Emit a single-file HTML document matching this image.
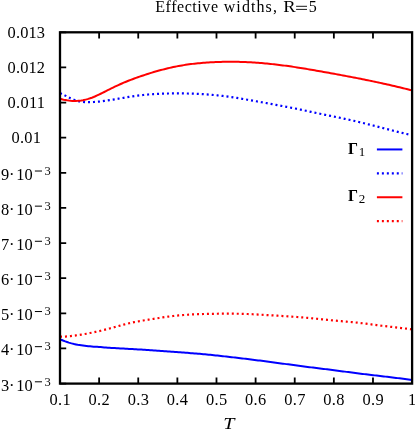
<!DOCTYPE html>
<html><head><meta charset="utf-8"><title>Effective widths, R=5</title>
<style>html,body{margin:0;padding:0;background:#fff;overflow:hidden}svg{display:block;will-change:transform}text{font-family:"Liberation Serif",serif;fill:#000}</style></head><body>
<svg width="415" height="431" viewBox="0 0 415 431">
<rect width="415" height="431" fill="#fff"/>
<text y="11.7" font-size="16"><tspan x="155.2" textLength="62.8">Effective</tspan><tspan x="223.7" textLength="53.2">widths,</tspan><tspan x="308.7">5</tspan></text>
<text transform="translate(283.2,11.7) scale(1.16,1)" font-size="16">R</text>
<path d="M296.1,6.3 H307 M296.1,9.4 H307" stroke="#000" stroke-width="0.9" fill="none"/>
<path d="M60.00,339.30 L61.77,340.04 L63.54,340.74 L65.31,341.41 L67.08,342.02 L68.84,342.60 L70.61,343.13 L72.38,343.61 L74.15,344.05 L75.92,344.44 L77.69,344.79 L79.46,345.09 L81.23,345.35 L82.99,345.59 L84.76,345.81 L86.53,346.01 L88.30,346.20 L90.07,346.36 L91.84,346.51 L93.61,346.63 L95.38,346.75 L97.15,346.87 L98.91,346.99 L100.68,347.12 L102.45,347.26 L104.22,347.40 L105.99,347.53 L107.76,347.65 L109.53,347.77 L111.30,347.88 L113.07,347.99 L114.83,348.09 L116.60,348.19 L118.37,348.29 L120.14,348.39 L121.91,348.50 L123.68,348.60 L125.45,348.70 L127.22,348.80 L128.98,348.90 L130.75,349.00 L132.52,349.10 L134.29,349.20 L136.06,349.30 L137.83,349.41 L139.60,349.51 L141.37,349.62 L143.14,349.73 L144.90,349.84 L146.67,349.95 L148.44,350.06 L150.21,350.18 L151.98,350.30 L153.75,350.42 L155.52,350.54 L157.29,350.67 L159.06,350.80 L160.82,350.93 L162.59,351.06 L164.36,351.19 L166.13,351.32 L167.90,351.45 L169.67,351.58 L171.44,351.71 L173.21,351.84 L174.97,351.97 L176.74,352.10 L178.51,352.22 L180.28,352.35 L182.05,352.48 L183.82,352.60 L185.59,352.73 L187.36,352.86 L189.13,352.99 L190.89,353.13 L192.66,353.26 L194.43,353.40 L196.20,353.55 L197.97,353.70 L199.74,353.85 L201.51,354.01 L203.28,354.17 L205.05,354.34 L206.81,354.51 L208.58,354.68 L210.35,354.86 L212.12,355.04 L213.89,355.23 L215.66,355.41 L217.43,355.60 L219.20,355.79 L220.96,355.99 L222.73,356.18 L224.50,356.38 L226.27,356.57 L228.04,356.77 L229.81,356.97 L231.58,357.17 L233.35,357.38 L235.12,357.58 L236.88,357.79 L238.65,358.00 L240.42,358.21 L242.19,358.42 L243.96,358.63 L245.73,358.84 L247.50,359.06 L249.27,359.28 L251.04,359.50 L252.80,359.72 L254.57,359.94 L256.34,360.16 L258.11,360.39 L259.88,360.61 L261.65,360.84 L263.42,361.07 L265.19,361.30 L266.95,361.53 L268.72,361.76 L270.49,362.00 L272.26,362.23 L274.03,362.47 L275.80,362.70 L277.57,362.94 L279.34,363.17 L281.11,363.41 L282.87,363.65 L284.64,363.88 L286.41,364.12 L288.18,364.36 L289.95,364.59 L291.72,364.83 L293.49,365.06 L295.26,365.30 L297.03,365.53 L298.79,365.77 L300.56,366.00 L302.33,366.23 L304.10,366.46 L305.87,366.69 L307.64,366.91 L309.41,367.14 L311.18,367.37 L312.94,367.59 L314.71,367.81 L316.48,368.04 L318.25,368.26 L320.02,368.47 L321.79,368.69 L323.56,368.91 L325.33,369.13 L327.10,369.35 L328.86,369.57 L330.63,369.79 L332.40,370.01 L334.17,370.24 L335.94,370.46 L337.71,370.69 L339.48,370.92 L341.25,371.16 L343.02,371.40 L344.78,371.63 L346.55,371.87 L348.32,372.11 L350.09,372.34 L351.86,372.58 L353.63,372.81 L355.40,373.04 L357.17,373.26 L358.93,373.48 L360.70,373.70 L362.47,373.91 L364.24,374.13 L366.01,374.34 L367.78,374.55 L369.55,374.75 L371.32,374.96 L373.09,375.17 L374.85,375.37 L376.62,375.58 L378.39,375.79 L380.16,376.00 L381.93,376.21 L383.70,376.42 L385.47,376.63 L387.24,376.84 L389.01,377.05 L390.77,377.27 L392.54,377.48 L394.31,377.70 L396.08,377.91 L397.85,378.13 L399.62,378.35 L401.39,378.57 L403.16,378.79 L404.92,379.01 L406.69,379.23 L408.46,379.45 L410.23,379.68 L412.00,379.90" fill="none" stroke="#0000ff" stroke-width="2"/>
<path d="M60.00,93.10 L61.77,93.88 L63.54,94.74 L65.31,95.63 L67.08,96.55 L68.84,97.45 L70.61,98.32 L72.38,99.12 L74.15,99.84 L75.92,100.46 L77.69,100.96 L79.46,101.37 L81.23,101.68 L82.99,101.91 L84.76,102.07 L86.53,102.15 L88.30,102.18 L90.07,102.15 L91.84,102.09 L93.61,102.00 L95.38,101.88 L97.15,101.75 L98.91,101.59 L100.68,101.40 L102.45,101.20 L104.22,100.96 L105.99,100.70 L107.76,100.43 L109.53,100.14 L111.30,99.85 L113.07,99.56 L114.83,99.27 L116.60,98.98 L118.37,98.69 L120.14,98.40 L121.91,98.10 L123.68,97.80 L125.45,97.49 L127.22,97.19 L128.98,96.89 L130.75,96.60 L132.52,96.32 L134.29,96.06 L136.06,95.81 L137.83,95.58 L139.60,95.37 L141.37,95.17 L143.14,94.98 L144.90,94.81 L146.67,94.65 L148.44,94.50 L150.21,94.36 L151.98,94.23 L153.75,94.12 L155.52,94.01 L157.29,93.91 L159.06,93.82 L160.82,93.74 L162.59,93.67 L164.36,93.61 L166.13,93.56 L167.90,93.51 L169.67,93.47 L171.44,93.44 L173.21,93.42 L174.97,93.41 L176.74,93.40 L178.51,93.40 L180.28,93.41 L182.05,93.42 L183.82,93.44 L185.59,93.47 L187.36,93.51 L189.13,93.55 L190.89,93.60 L192.66,93.66 L194.43,93.72 L196.20,93.80 L197.97,93.88 L199.74,93.97 L201.51,94.07 L203.28,94.18 L205.05,94.30 L206.81,94.42 L208.58,94.55 L210.35,94.70 L212.12,94.85 L213.89,95.01 L215.66,95.18 L217.43,95.36 L219.20,95.55 L220.96,95.75 L222.73,95.96 L224.50,96.18 L226.27,96.40 L228.04,96.64 L229.81,96.89 L231.58,97.14 L233.35,97.41 L235.12,97.68 L236.88,97.96 L238.65,98.25 L240.42,98.54 L242.19,98.83 L243.96,99.13 L245.73,99.43 L247.50,99.74 L249.27,100.05 L251.04,100.36 L252.80,100.67 L254.57,100.98 L256.34,101.29 L258.11,101.61 L259.88,101.92 L261.65,102.24 L263.42,102.56 L265.19,102.88 L266.95,103.20 L268.72,103.52 L270.49,103.84 L272.26,104.16 L274.03,104.49 L275.80,104.81 L277.57,105.14 L279.34,105.47 L281.11,105.80 L282.87,106.13 L284.64,106.47 L286.41,106.80 L288.18,107.14 L289.95,107.49 L291.72,107.84 L293.49,108.19 L295.26,108.54 L297.03,108.91 L298.79,109.27 L300.56,109.64 L302.33,110.01 L304.10,110.39 L305.87,110.76 L307.64,111.14 L309.41,111.52 L311.18,111.89 L312.94,112.27 L314.71,112.64 L316.48,113.01 L318.25,113.37 L320.02,113.74 L321.79,114.10 L323.56,114.45 L325.33,114.81 L327.10,115.17 L328.86,115.53 L330.63,115.88 L332.40,116.24 L334.17,116.60 L335.94,116.97 L337.71,117.33 L339.48,117.70 L341.25,118.07 L343.02,118.45 L344.78,118.83 L346.55,119.21 L348.32,119.60 L350.09,120.00 L351.86,120.39 L353.63,120.79 L355.40,121.20 L357.17,121.61 L358.93,122.03 L360.70,122.45 L362.47,122.87 L364.24,123.30 L366.01,123.74 L367.78,124.18 L369.55,124.62 L371.32,125.07 L373.09,125.52 L374.85,125.97 L376.62,126.42 L378.39,126.88 L380.16,127.33 L381.93,127.79 L383.70,128.25 L385.47,128.70 L387.24,129.16 L389.01,129.62 L390.77,130.07 L392.54,130.52 L394.31,130.97 L396.08,131.41 L397.85,131.85 L399.62,132.29 L401.39,132.72 L403.16,133.15 L404.92,133.57 L406.69,133.99 L408.46,134.40 L410.23,134.80 L412.00,135.20" fill="none" stroke="#0000ff" stroke-width="2.2" stroke-dasharray="2 2.97"/>
<path d="M60.00,98.80 L61.77,99.24 L63.54,99.65 L65.31,100.00 L67.08,100.31 L68.84,100.56 L70.61,100.76 L72.38,100.89 L74.15,100.95 L75.92,100.94 L77.69,100.85 L79.46,100.70 L81.23,100.47 L82.99,100.18 L84.76,99.81 L86.53,99.38 L88.30,98.88 L90.07,98.31 L91.84,97.69 L93.61,97.00 L95.38,96.25 L97.15,95.45 L98.91,94.62 L100.68,93.76 L102.45,92.88 L104.22,91.99 L105.99,91.10 L107.76,90.21 L109.53,89.32 L111.30,88.44 L113.07,87.57 L114.83,86.71 L116.60,85.87 L118.37,85.04 L120.14,84.24 L121.91,83.46 L123.68,82.70 L125.45,81.96 L127.22,81.25 L128.98,80.55 L130.75,79.87 L132.52,79.20 L134.29,78.55 L136.06,77.90 L137.83,77.27 L139.60,76.64 L141.37,76.03 L143.14,75.43 L144.90,74.84 L146.67,74.27 L148.44,73.70 L150.21,73.15 L151.98,72.60 L153.75,72.07 L155.52,71.56 L157.29,71.05 L159.06,70.56 L160.82,70.08 L162.59,69.61 L164.36,69.16 L166.13,68.72 L167.90,68.29 L169.67,67.88 L171.44,67.48 L173.21,67.10 L174.97,66.73 L176.74,66.38 L178.51,66.04 L180.28,65.72 L182.05,65.41 L183.82,65.12 L185.59,64.85 L187.36,64.59 L189.13,64.34 L190.89,64.10 L192.66,63.88 L194.43,63.67 L196.20,63.48 L197.97,63.30 L199.74,63.13 L201.51,62.97 L203.28,62.82 L205.05,62.68 L206.81,62.56 L208.58,62.44 L210.35,62.34 L212.12,62.24 L213.89,62.16 L215.66,62.08 L217.43,62.02 L219.20,61.96 L220.96,61.91 L222.73,61.87 L224.50,61.83 L226.27,61.81 L228.04,61.79 L229.81,61.78 L231.58,61.78 L233.35,61.78 L235.12,61.79 L236.88,61.82 L238.65,61.84 L240.42,61.88 L242.19,61.93 L243.96,61.99 L245.73,62.05 L247.50,62.13 L249.27,62.21 L251.04,62.31 L252.80,62.41 L254.57,62.53 L256.34,62.65 L258.11,62.78 L259.88,62.92 L261.65,63.07 L263.42,63.23 L265.19,63.39 L266.95,63.56 L268.72,63.74 L270.49,63.93 L272.26,64.12 L274.03,64.32 L275.80,64.52 L277.57,64.73 L279.34,64.94 L281.11,65.16 L282.87,65.39 L284.64,65.62 L286.41,65.86 L288.18,66.10 L289.95,66.35 L291.72,66.61 L293.49,66.87 L295.26,67.13 L297.03,67.40 L298.79,67.68 L300.56,67.96 L302.33,68.25 L304.10,68.54 L305.87,68.83 L307.64,69.13 L309.41,69.43 L311.18,69.74 L312.94,70.04 L314.71,70.35 L316.48,70.66 L318.25,70.97 L320.02,71.28 L321.79,71.59 L323.56,71.91 L325.33,72.22 L327.10,72.54 L328.86,72.85 L330.63,73.17 L332.40,73.49 L334.17,73.81 L335.94,74.14 L337.71,74.46 L339.48,74.79 L341.25,75.12 L343.02,75.44 L344.78,75.77 L346.55,76.11 L348.32,76.44 L350.09,76.78 L351.86,77.12 L353.63,77.46 L355.40,77.80 L357.17,78.14 L358.93,78.49 L360.70,78.84 L362.47,79.19 L364.24,79.55 L366.01,79.91 L367.78,80.27 L369.55,80.63 L371.32,81.00 L373.09,81.37 L374.85,81.75 L376.62,82.12 L378.39,82.50 L380.16,82.89 L381.93,83.27 L383.70,83.66 L385.47,84.06 L387.24,84.45 L389.01,84.85 L390.77,85.26 L392.54,85.67 L394.31,86.08 L396.08,86.49 L397.85,86.91 L399.62,87.33 L401.39,87.76 L403.16,88.19 L404.92,88.62 L406.69,89.06 L408.46,89.50 L410.23,89.95 L412.00,90.40" fill="none" stroke="#ff0000" stroke-width="2"/>
<path d="M60.00,336.70 L61.77,336.70 L63.54,336.65 L65.31,336.55 L67.08,336.43 L68.84,336.27 L70.61,336.08 L72.38,335.87 L74.15,335.65 L75.92,335.41 L77.69,335.16 L79.46,334.91 L81.23,334.64 L82.99,334.36 L84.76,334.04 L86.53,333.71 L88.30,333.36 L90.07,333.01 L91.84,332.65 L93.61,332.30 L95.38,331.95 L97.15,331.58 L98.91,331.18 L100.68,330.76 L102.45,330.32 L104.22,329.86 L105.99,329.40 L107.76,328.93 L109.53,328.47 L111.30,328.00 L113.07,327.52 L114.83,327.05 L116.60,326.56 L118.37,326.07 L120.14,325.58 L121.91,325.10 L123.68,324.62 L125.45,324.16 L127.22,323.72 L128.98,323.30 L130.75,322.90 L132.52,322.52 L134.29,322.15 L136.06,321.81 L137.83,321.47 L139.60,321.15 L141.37,320.84 L143.14,320.54 L144.90,320.24 L146.67,319.95 L148.44,319.67 L150.21,319.39 L151.98,319.10 L153.75,318.82 L155.52,318.54 L157.29,318.26 L159.06,317.98 L160.82,317.70 L162.59,317.44 L164.36,317.17 L166.13,316.92 L167.90,316.67 L169.67,316.43 L171.44,316.21 L173.21,315.99 L174.97,315.79 L176.74,315.60 L178.51,315.43 L180.28,315.27 L182.05,315.12 L183.82,314.98 L185.59,314.85 L187.36,314.74 L189.13,314.63 L190.89,314.53 L192.66,314.43 L194.43,314.35 L196.20,314.27 L197.97,314.20 L199.74,314.14 L201.51,314.07 L203.28,314.02 L205.05,313.97 L206.81,313.92 L208.58,313.88 L210.35,313.85 L212.12,313.81 L213.89,313.79 L215.66,313.76 L217.43,313.74 L219.20,313.72 L220.96,313.71 L222.73,313.70 L224.50,313.69 L226.27,313.68 L228.04,313.68 L229.81,313.68 L231.58,313.69 L233.35,313.70 L235.12,313.72 L236.88,313.74 L238.65,313.77 L240.42,313.81 L242.19,313.85 L243.96,313.90 L245.73,313.95 L247.50,314.02 L249.27,314.09 L251.04,314.17 L252.80,314.26 L254.57,314.35 L256.34,314.44 L258.11,314.54 L259.88,314.65 L261.65,314.75 L263.42,314.86 L265.19,314.97 L266.95,315.08 L268.72,315.18 L270.49,315.29 L272.26,315.40 L274.03,315.50 L275.80,315.60 L277.57,315.71 L279.34,315.81 L281.11,315.92 L282.87,316.03 L284.64,316.14 L286.41,316.25 L288.18,316.37 L289.95,316.49 L291.72,316.61 L293.49,316.74 L295.26,316.87 L297.03,317.00 L298.79,317.14 L300.56,317.29 L302.33,317.44 L304.10,317.59 L305.87,317.74 L307.64,317.90 L309.41,318.07 L311.18,318.23 L312.94,318.40 L314.71,318.57 L316.48,318.75 L318.25,318.93 L320.02,319.11 L321.79,319.29 L323.56,319.47 L325.33,319.65 L327.10,319.83 L328.86,320.01 L330.63,320.19 L332.40,320.37 L334.17,320.54 L335.94,320.70 L337.71,320.86 L339.48,321.02 L341.25,321.17 L343.02,321.32 L344.78,321.47 L346.55,321.62 L348.32,321.78 L350.09,321.94 L351.86,322.10 L353.63,322.27 L355.40,322.45 L357.17,322.64 L358.93,322.83 L360.70,323.04 L362.47,323.25 L364.24,323.47 L366.01,323.70 L367.78,323.93 L369.55,324.16 L371.32,324.39 L373.09,324.62 L374.85,324.85 L376.62,325.08 L378.39,325.30 L380.16,325.52 L381.93,325.74 L383.70,325.95 L385.47,326.17 L387.24,326.38 L389.01,326.59 L390.77,326.79 L392.54,327.00 L394.31,327.21 L396.08,327.42 L397.85,327.63 L399.62,327.84 L401.39,328.05 L403.16,328.27 L404.92,328.49 L406.69,328.71 L408.46,328.94 L410.23,329.17 L412.00,329.40" fill="none" stroke="#ff0000" stroke-width="2.2" stroke-dasharray="2 2.97"/>
<path d="M60.00,383.60 v-6.2 M60.00,32.30 v6.2 M99.12,383.60 v-6.2 M99.12,32.30 v6.2 M138.24,383.60 v-6.2 M138.24,32.30 v6.2 M177.37,383.60 v-6.2 M177.37,32.30 v6.2 M216.49,383.60 v-6.2 M216.49,32.30 v6.2 M255.61,383.60 v-6.2 M255.61,32.30 v6.2 M294.73,383.60 v-6.2 M294.73,32.30 v6.2 M333.86,383.60 v-6.2 M333.86,32.30 v6.2 M372.98,383.60 v-6.2 M372.98,32.30 v6.2 M412.10,383.60 v-6.2 M412.10,32.30 v6.2 M60.00,32.30 h6.2 M60.00,67.43 h6.2 M60.00,102.56 h6.2 M60.00,137.69 h6.2 M60.00,172.82 h6.2 M60.00,207.95 h6.2 M60.00,243.08 h6.2 M60.00,278.21 h6.2 M60.00,313.34 h6.2 M60.00,348.47 h6.2 M60.00,383.60 h6.2" fill="none" stroke="#000" stroke-width="1.8"/>
<rect x="60.0" y="32.3" width="352.10" height="351.30" fill="none" stroke="#000" stroke-width="2.3"/>
<text x="60.00" y="405.3" font-size="16.4" text-anchor="middle" textLength="21.2">0.1</text>
<text x="99.12" y="405.3" font-size="16.4" text-anchor="middle" textLength="21.2">0.2</text>
<text x="138.24" y="405.3" font-size="16.4" text-anchor="middle" textLength="21.2">0.3</text>
<text x="177.37" y="405.3" font-size="16.4" text-anchor="middle" textLength="21.2">0.4</text>
<text x="216.49" y="405.3" font-size="16.4" text-anchor="middle" textLength="21.2">0.5</text>
<text x="255.61" y="405.3" font-size="16.4" text-anchor="middle" textLength="21.2">0.6</text>
<text x="294.73" y="405.3" font-size="16.4" text-anchor="middle" textLength="21.2">0.7</text>
<text x="333.86" y="405.3" font-size="16.4" text-anchor="middle" textLength="21.2">0.8</text>
<text x="372.98" y="405.3" font-size="16.4" text-anchor="middle" textLength="21.2">0.9</text>
<text x="412.10" y="405.3" font-size="16.4" text-anchor="middle">1</text>
<text transform="translate(228.9,429) scale(1.26,1.02)" x="0" y="0" font-size="16" font-style="italic" text-anchor="middle">T</text>
<text x="26.3" y="37.60" font-size="16.4" text-anchor="middle" textLength="37.4">0.013</text>
<text x="26.3" y="72.73" font-size="16.4" text-anchor="middle" textLength="37.4">0.012</text>
<text x="26.3" y="107.86" font-size="16.4" text-anchor="middle" textLength="37.4">0.011</text>
<text x="26.3" y="142.99" font-size="16.4" text-anchor="middle" textLength="29.4">0.01</text>
<text y="179.72" font-size="16.4"><tspan x="1">9</tspan><tspan x="9.1">·</tspan><tspan x="16.2">10</tspan><tspan x="44.4" dy="-4.9" font-size="12.5">3</tspan></text>
<path d="M34.9,171.02 H42.0" stroke="#000" stroke-width="1" fill="none"/>
<text y="214.85" font-size="16.4"><tspan x="1">8</tspan><tspan x="9.1">·</tspan><tspan x="16.2">10</tspan><tspan x="44.4" dy="-4.9" font-size="12.5">3</tspan></text>
<path d="M34.9,206.15 H42.0" stroke="#000" stroke-width="1" fill="none"/>
<text y="249.98" font-size="16.4"><tspan x="1">7</tspan><tspan x="9.1">·</tspan><tspan x="16.2">10</tspan><tspan x="44.4" dy="-4.9" font-size="12.5">3</tspan></text>
<path d="M34.9,241.28 H42.0" stroke="#000" stroke-width="1" fill="none"/>
<text y="285.11" font-size="16.4"><tspan x="1">6</tspan><tspan x="9.1">·</tspan><tspan x="16.2">10</tspan><tspan x="44.4" dy="-4.9" font-size="12.5">3</tspan></text>
<path d="M34.9,276.41 H42.0" stroke="#000" stroke-width="1" fill="none"/>
<text y="320.24" font-size="16.4"><tspan x="1">5</tspan><tspan x="9.1">·</tspan><tspan x="16.2">10</tspan><tspan x="44.4" dy="-4.9" font-size="12.5">3</tspan></text>
<path d="M34.9,311.54 H42.0" stroke="#000" stroke-width="1" fill="none"/>
<text y="355.37" font-size="16.4"><tspan x="1">4</tspan><tspan x="9.1">·</tspan><tspan x="16.2">10</tspan><tspan x="44.4" dy="-4.9" font-size="12.5">3</tspan></text>
<path d="M34.9,346.67 H42.0" stroke="#000" stroke-width="1" fill="none"/>
<text y="390.50" font-size="16.4"><tspan x="1">3</tspan><tspan x="9.1">·</tspan><tspan x="16.2">10</tspan><tspan x="44.4" dy="-4.9" font-size="12.5">3</tspan></text>
<path d="M34.9,381.80 H42.0" stroke="#000" stroke-width="1" fill="none"/>
<path d="M376.9,149.45 H402.4" stroke="#0000ff" stroke-width="2" fill="none"/>
<path d="M376.9,173.35 H402.4" stroke="#0000ff" stroke-width="2.2" fill="none" stroke-dasharray="2 2.97"/>
<path d="M376.9,197.25 H402.4" stroke="#ff0000" stroke-width="2" fill="none"/>
<path d="M376.9,221.15 H402.4" stroke="#ff0000" stroke-width="2.2" fill="none" stroke-dasharray="2 2.97"/>
<text x="347.9" y="153.60" font-size="15.7" font-weight="bold">Γ<tspan font-size="13" dx="0.9" dy="2.2" font-weight="normal">1</tspan></text>
<text x="347.9" y="201.20" font-size="15.7" font-weight="bold">Γ<tspan font-size="13" dx="0.9" dy="2.2" font-weight="normal">2</tspan></text>
</svg></body></html>
